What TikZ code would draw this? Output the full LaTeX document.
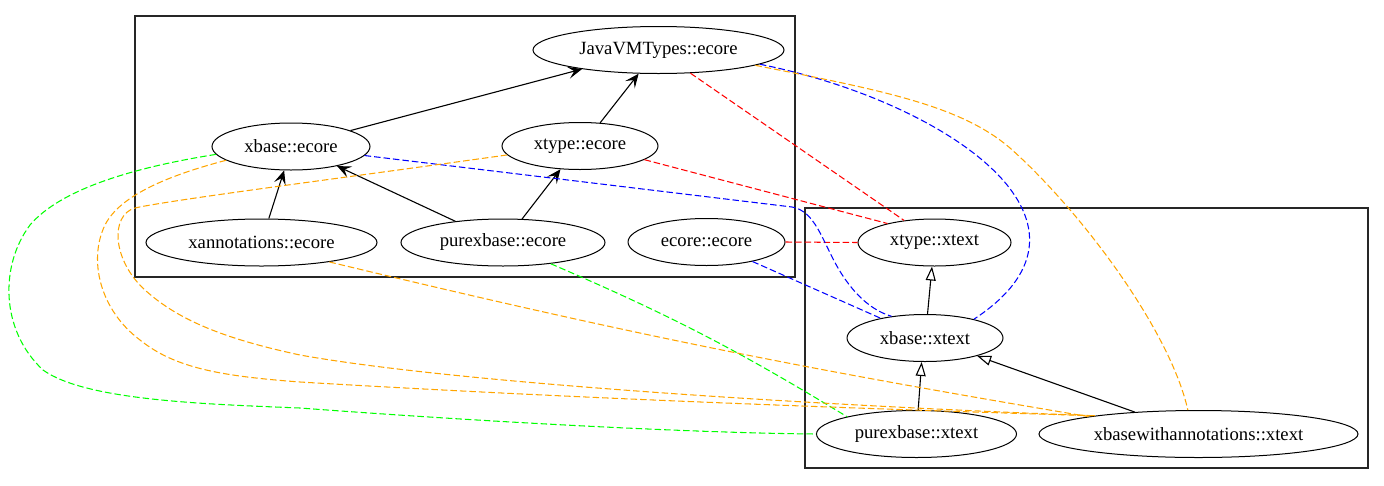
\documentclass[tikz,border=0pt]{standalone}
\usepackage{fontspec}
\setmainfont{Liberation Serif}
\usetikzlibrary{arrows.meta,shapes.geometric}
\definecolor{gvred}{RGB}{255,0,0}
\definecolor{gvblue}{RGB}{0,0,255}
\definecolor{gvgreen}{RGB}{0,255,0}
\definecolor{gvorange}{RGB}{255,165,0}
\begin{document}
\begin{tikzpicture}[x=1pt,y=-1pt,
  ell/.style={ellipse, draw, line width=1pt, minimum height=47pt, inner sep=0pt,
    font=\fontsize{18.67pt}{22pt}\selectfont},
  cluster/.style={draw=black!85, line width=1.3pt},
  dep/.style={line width=1.1pt, -{Stealth[length=14pt,width=12pt,inset=6pt]}},
  inh/.style={line width=1.1pt, -{Triangle[open,length=14pt,width=10pt]}},
  dsh/.style={line width=1.05pt, dash pattern=on 6.5pt off 3pt},
]
\useasboundingbox (0,0) rectangle (1384,485);
% clusters
\draw[cluster] (135,16) rectangle (795,277);
\draw[cluster] (805,208) rectangle (1368,468);
% nodes
\node[ell, minimum width=251pt] (J)   at (658.5,50)   {JavaVMTypes::ecore};
\node[ell, minimum width=158pt] (XBE) at (291,146.5)  {xbase::ecore};
\node[ell, minimum width=156pt] (XTE) at (580,146)    {xtype::ecore};
\node[ell, minimum width=231pt] (XAE) at (261.5,242.5){xannotations::ecore};
\node[ell, minimum width=204pt] (PE)  at (503,242.5)  {purexbase::ecore};
\node[ell, minimum width=157pt] (EE)  at (706.5,242)  {ecore::ecore};
\node[ell, minimum width=153pt] (TX)  at (934.5,242.5){xtype::xtext};
\node[ell, minimum width=156pt] (BX)  at (925,338)    {xbase::xtext};
\node[ell, minimum width=200pt] (PX)  at (916.5,434)  {purexbase::xtext};
\node[ell, minimum width=319pt] (WX)  at (1198.5,434) {xbasewithannotations::xtext};
% solid dependencies
\draw[dep] (XBE.15) -- (J.194);
\draw[dep] (XTE.49) -- (J.230);
\draw[dep] (XAE.73) -- (XBE.254);
\draw[dep] (PE.156) -- (XBE.337);
\draw[dep] (PE.51) -- (XTE.230);
\draw[inh] (BX.84) -- (TX.264);
\draw[inh] (PX.86) -- (BX.262);
\draw[inh] (WX.161) -- (BX.341);
% red
\draw[dsh, gvred] (J.324) -- (TX.144);
\draw[dsh, gvred] (XTE.348) -- (TX.158);
\draw[dsh, gvred] (EE.east) -- (TX.west);
% blue
\draw[dsh, gvblue] (J.352) .. controls (940,100) and (1125,220) .. (BX.21);
\draw[dsh, gvblue] (XBE.353) -- (792,207) .. controls (815,211) and (822,240) .. (838,268)
  .. controls (852,292) and (870,310) .. (BX.147);
\draw[dsh, gvblue] (EE.337) -- (BX.156);
% green
\draw[dsh, gvgreen] (XBE.186) .. controls (130,168) and (60,190) .. (30,225)
  .. controls (0,265) and (0,330) .. (43,370)
  .. controls (85,400) and (200,404) .. (300,408)
  .. controls (500,423) and (700,433) .. (PX.west);
\draw[dsh, gvgreen] (PE.336) to[bend left=4] (PX.166);
% orange
\draw[dsh, gvorange] (J.351) .. controls (880,90) and (960,105) .. (1010,148)
  .. controls (1080,210) and (1170,330) .. (WX.114);
\draw[dsh, gvorange] (XAE.344) to[bend right=2] (WX.171);
\draw[dsh, gvorange] (XBE.192) .. controls (170,175) and (120,195) .. (105,225)
  .. controls (88,260) and (100,310) .. (140,340)
  .. controls (175,368) and (220,376) .. (300,382)
  .. controls (600,400) and (900,410) .. (WX.170);
\draw[dsh, gvorange] (XTE.187) .. controls (350,177) and (170,200) .. (135,208)
  .. controls (110,215) and (112,260) .. (145,290)
  .. controls (180,322) and (230,340) .. (300,355)
  .. controls (450,382) and (800,405) .. (WX.170);
\end{tikzpicture}
\end{document}
